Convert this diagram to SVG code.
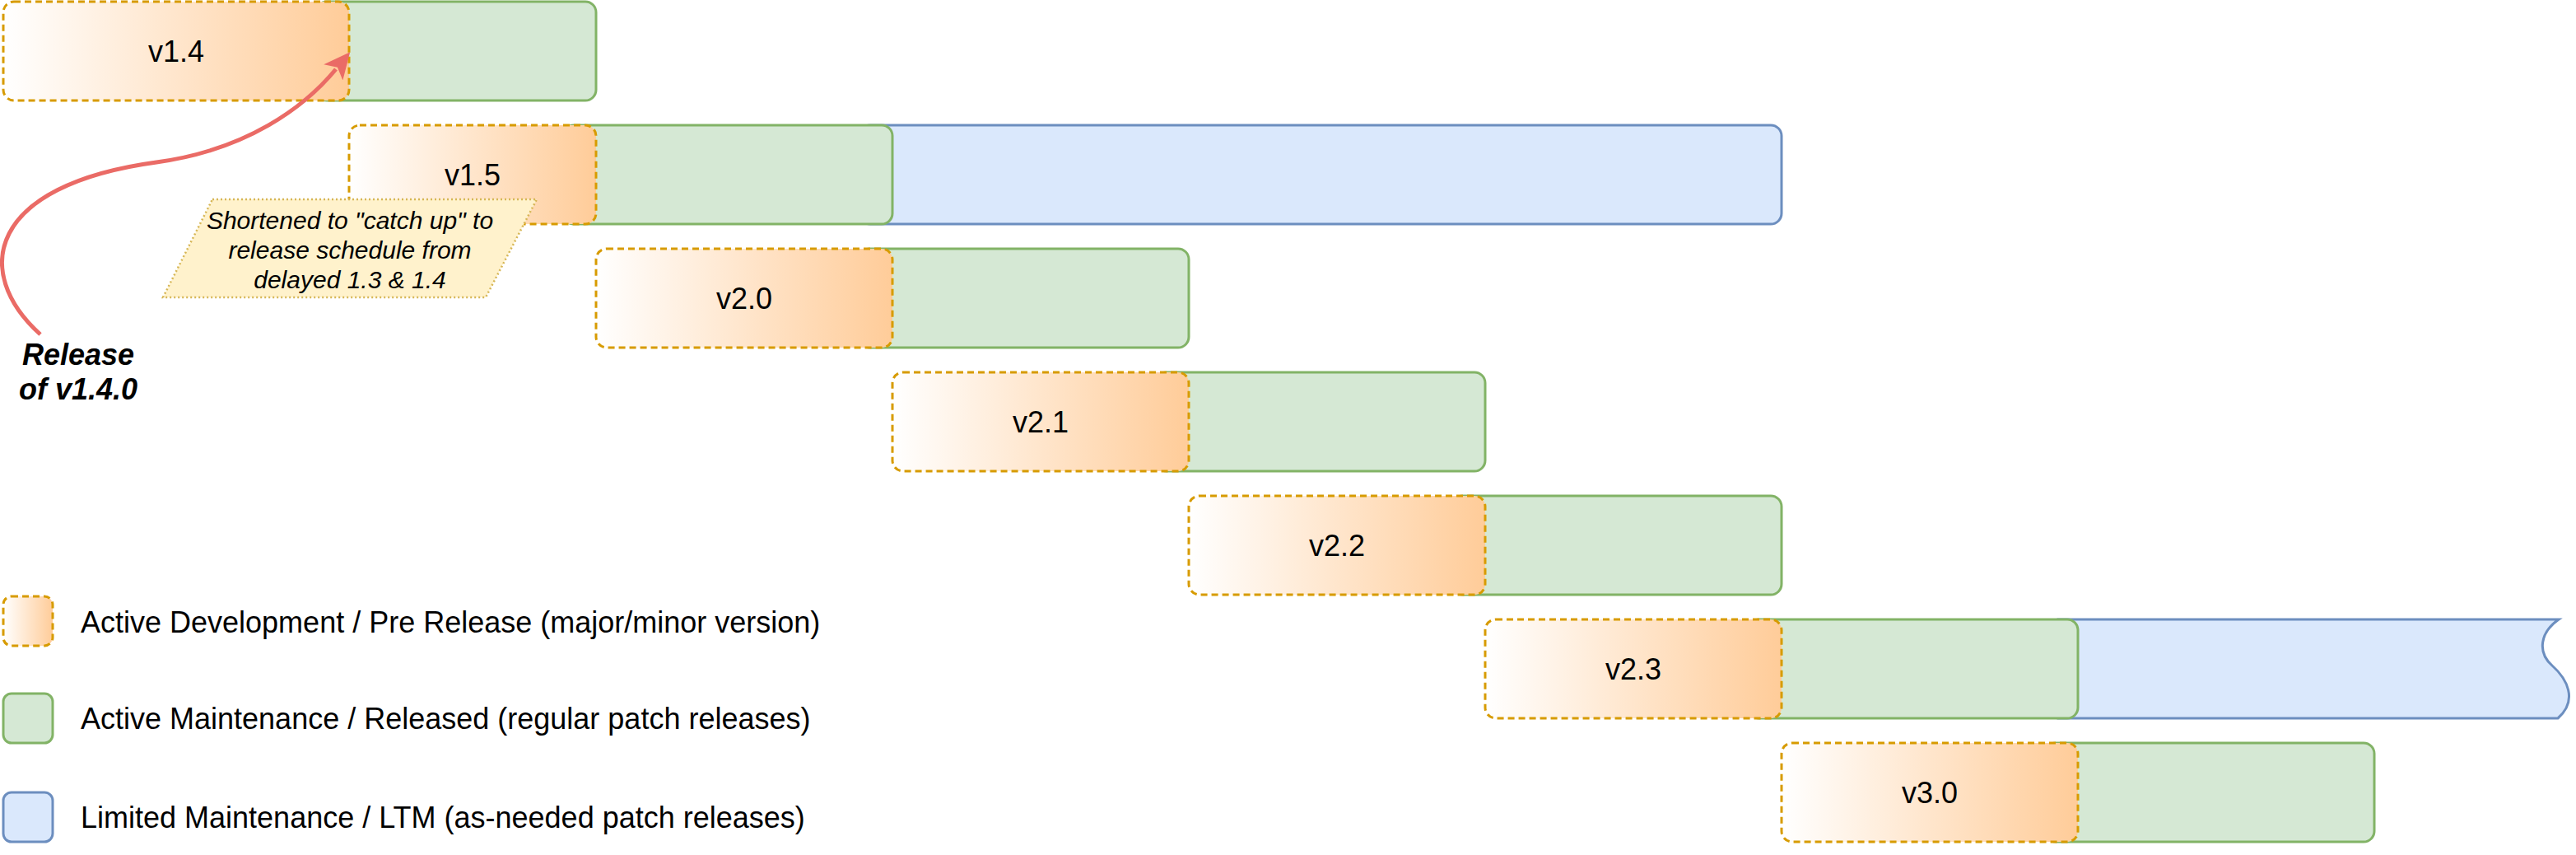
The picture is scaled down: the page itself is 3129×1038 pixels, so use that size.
<svg xmlns="http://www.w3.org/2000/svg" width="3129" height="1038" viewBox="0 0 3129 1038">
  <defs>
    <linearGradient id="dev" x1="0" y1="0" x2="1" y2="0">
      <stop offset="0" stop-color="#ffffff"/>
      <stop offset="1" stop-color="#ffcc99"/>
    </linearGradient>
    <marker id="arrow" markerUnits="userSpaceOnUse" markerWidth="40" markerHeight="40" refX="5" refY="20" orient="auto">
      <path d="M0,5 L32,20 L0,35 L8,20 Z" fill="#ea6b66"/>
    </marker>
    <style>
      .dev { fill: url(#dev); stroke: #d79b00; stroke-width: 3; stroke-dasharray: 8 5; }
      .act { fill: #d5e8d4; stroke: #82b366; stroke-width: 3; }
      .ltm { fill: #dae8fc; stroke: #6c8ebf; stroke-width: 3; }
      .lbl { font-family: "Liberation Sans", Arial, Helvetica, sans-serif; font-size: 36px; fill: #000000; }
      .ver { text-anchor: middle; }
      .note { fill: #fff2cc; stroke: #d6b656; stroke-width: 2.5; stroke-dasharray: 2 3; }
      .notetxt { font-family: "Liberation Sans", Arial, Helvetica, sans-serif; font-size: 30px; font-style: italic; text-anchor: middle; fill: #000000; }
      .rel { font-family: "Liberation Sans", Arial, Helvetica, sans-serif; font-size: 36px; font-style: italic; font-weight: bold; text-anchor: middle; fill: #000000; }
      .conn { fill: none; stroke: #ea6b66; stroke-width: 5; }
    </style>
  </defs>
  <rect x="0" y="0" width="3129" height="1038" fill="#ffffff"/>

  <g id="v1.4">
    <rect class="act" x="384" y="2" width="340" height="120" rx="13" ry="13"/>
    <rect class="dev" x="4" y="2" width="420" height="120" rx="13" ry="13"/>
    <text class="lbl ver" x="214" y="75">v1.4</text>
  </g>

  <g id="v1.5">
    <rect class="ltm" x="1044" y="152" width="1120" height="120" rx="13" ry="13"/>
    <rect class="act" x="684" y="152" width="400" height="120" rx="13" ry="13"/>
    <rect class="dev" x="424" y="152" width="300" height="120" rx="13" ry="13"/>
    <text class="lbl ver" x="574" y="225">v1.5</text>
  </g>

  <g id="v2.0">
    <rect class="act" x="1044" y="302" width="400" height="120" rx="13" ry="13"/>
    <rect class="dev" x="724" y="302" width="360" height="120" rx="13" ry="13"/>
    <text class="lbl ver" x="904" y="375">v2.0</text>
  </g>

  <g id="v2.1">
    <rect class="act" x="1404" y="452" width="400" height="120" rx="13" ry="13"/>
    <rect class="dev" x="1084" y="452" width="360" height="120" rx="13" ry="13"/>
    <text class="lbl ver" x="1264" y="525">v2.1</text>
  </g>

  <g id="v2.2">
    <rect class="act" x="1764" y="602" width="400" height="120" rx="13" ry="13"/>
    <rect class="dev" x="1444" y="602" width="360" height="120" rx="13" ry="13"/>
    <text class="lbl ver" x="1624" y="675">v2.2</text>
  </g>

  <g id="v2.3">
    <path class="ltm" d="M2500,752 H3108 C3085,768 3082,792 3100,808 C3118,824 3132,850 3107,872 H2500 Z"/>
    <rect class="act" x="2124" y="752" width="400" height="120" rx="13" ry="13"/>
    <rect class="dev" x="1804" y="752" width="360" height="120" rx="13" ry="13"/>
    <text class="lbl ver" x="1984" y="825">v2.3</text>
  </g>

  <g id="v3.0">
    <rect class="act" x="2484" y="902" width="400" height="120" rx="13" ry="13"/>
    <rect class="dev" x="2164" y="902" width="360" height="120" rx="13" ry="13"/>
    <text class="lbl ver" x="2344" y="975">v3.0</text>
  </g>

  <g id="note">
    <polygon class="note" points="258,242 652,242 590,361 198,361"/>
    <text class="notetxt" x="425" y="278">Shortened to "catch up" to</text>
    <text class="notetxt" x="425" y="314">release schedule from</text>
    <text class="notetxt" x="425" y="350">delayed 1.3 &amp; 1.4</text>
  </g>

  <g id="release-label">
    <text class="rel" x="95" y="443">Release</text>
    <text class="rel" x="95" y="485">of v1.4.0</text>
  </g>

  <g id="legend-dev">
    <rect class="dev" x="4" y="724" width="60" height="60" rx="10" ry="10"/>
    <text class="lbl" x="98" y="768">Active Development / Pre Release (major/minor version)</text>
  </g>
  <g id="legend-active">
    <rect class="act" x="4" y="842" width="60" height="60" rx="10" ry="10"/>
    <text class="lbl" x="98" y="885">Active Maintenance / Released (regular patch releases)</text>
  </g>
  <g id="legend-ltm">
    <rect class="ltm" x="4" y="962" width="60" height="60" rx="10" ry="10"/>
    <text class="lbl" x="98" y="1005">Limited Maintenance / LTM (as-needed patch releases)</text>
  </g>

  <g id="connectors">
    <path class="conn" d="M49,406 C-35,330 -15,225 190,197 C300,182 370,130 408,84" marker-end="url(#arrow)"/>
  </g>
</svg>
